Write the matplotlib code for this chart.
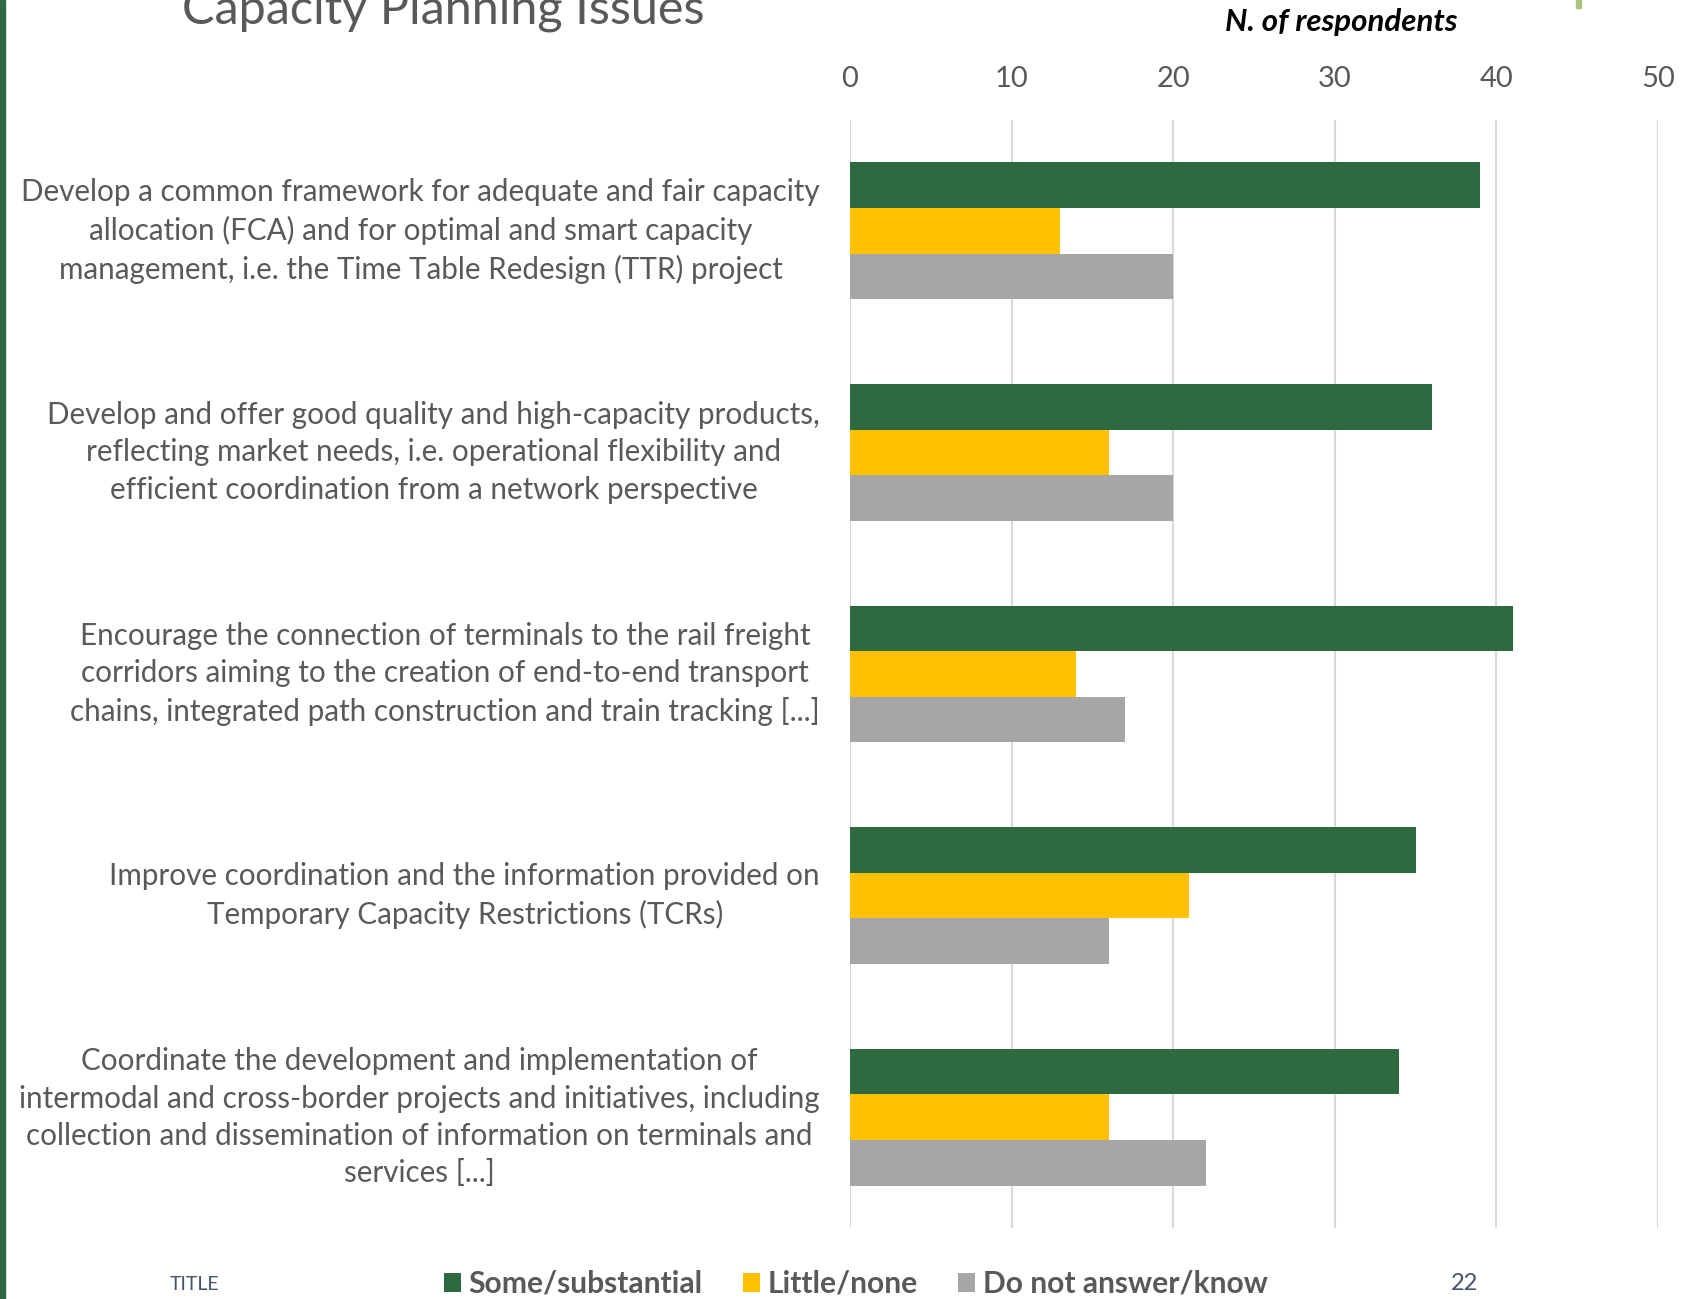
# Capacity Planning Issues - horizontal grouped bars (slide crop)

import numpy as np
import matplotlib.pyplot as plt
from matplotlib.patches import Rectangle

# Data
categories = [
    "Develop a common framework for adequate and fair capacity\nallocation (FCA) and for optimal and smart capacity\nmanagement, i.e. the Time Table Redesign (TTR) project",
    "Develop and offer good quality and high-capacity products,\nreflecting market needs, i.e. operational flexibility and\nefficient coordination from a network perspective",
    "Encourage the connection of terminals to the rail freight\ncorridors aiming to the creation of end-to-end transport\nchains, integrated path construction and train tracking [...]",
    "Improve coordination and the information provided on\nTemporary Capacity Restrictions (TCRs)",
    "Coordinate the development and implementation of\nintermodal and cross-border projects and initiatives, including\ncollection and dissemination of information on terminals and\nservices [...]",
]
series_names = ["Some/substantial", "Little/none", "Do not answer/know"]
some_substantial = [39, 36, 41, 35, 34]
little_none = [13, 16, 14, 21, 16]
no_answer = [20, 20, 17, 16, 22]
x_ticks = [0, 10, 20, 30, 40, 50]

colors = ["#2E6A3F", "#FFC000", "#A6A6A6"]
text_grey = "#595959"
navy = "#44546A"

plt.rcParams['font.family'] = ['Lato', 'DejaVu Sans']

fig = plt.figure(figsize=(16.85, 12.99), dpi=100)
ax = fig.add_axes([850 / 1685, 1 - 1228 / 1299, 808 / 1685, 1108 / 1299])

y = np.arange(len(categories))
h = 0.206
for i, vals in enumerate([some_substantial, little_none, no_answer]):
    ax.barh(y + (i - 1) * h, vals, height=h, color=colors[i], label=series_names[i], zorder=3)

ax.set_xlim(0, 50)
ax.set_ylim(len(categories) - 0.5, -0.5)
ax.set_xticks(x_ticks)
ax.xaxis.tick_top()
ax.tick_params(axis='x', length=0, pad=20, labelsize=21, labelcolor=text_grey)
ax.set_yticks([])
ax.grid(axis='x', color="#D9D9D9", linewidth=1.5, zorder=0)
for s in ax.spines.values():
    s.set_visible(False)

for yi, lab in zip(y, categories):
    ax.text(-0.037, yi, lab, transform=ax.get_yaxis_transform(), ha='right', va='center',
            multialignment='center', fontsize=21.3, color=text_grey, linespacing=1.4)

# slide decorations
fig.text(0.108, 1 - 24 / 1299, "Capacity Planning Issues", fontsize=35, color=text_grey,
         ha='left', va='baseline')
fig.text(1341 / 1685, 1 - 22 / 1299, "N. of respondents", fontsize=22.5, fontweight='bold',
         fontstyle='italic', color='black', ha='center', va='center')
fig.add_artist(Rectangle((0, 0), 5 / 1685, 1, transform=fig.transFigure, color="#2E6A3F"))
fig.add_artist(Rectangle((1576 / 1685, 1 - 8 / 1299), 5 / 1685, 8 / 1299,
                         transform=fig.transFigure, color="#A9C47F"))

fig.text(195 / 1685, 1 - 1284 / 1299, "TITLE", fontsize=14, color=navy, ha='center', va='center')
fig.text(1464 / 1685, 1 - 1284 / 1299, "22", fontsize=17, color=navy, ha='center', va='center')

leg = fig.legend(loc='center', bbox_to_anchor=(856 / 1685, 1 - 1284 / 1299), ncol=3, frameon=False,
                 handlelength=0.56, handleheight=0.56, handletextpad=0.25, columnspacing=1.35,
                 prop={'size': 21.6, 'weight': 'bold'})
for t in leg.get_texts():
    t.set_color(text_grey)

fig.savefig("out.png", dpi=100)
